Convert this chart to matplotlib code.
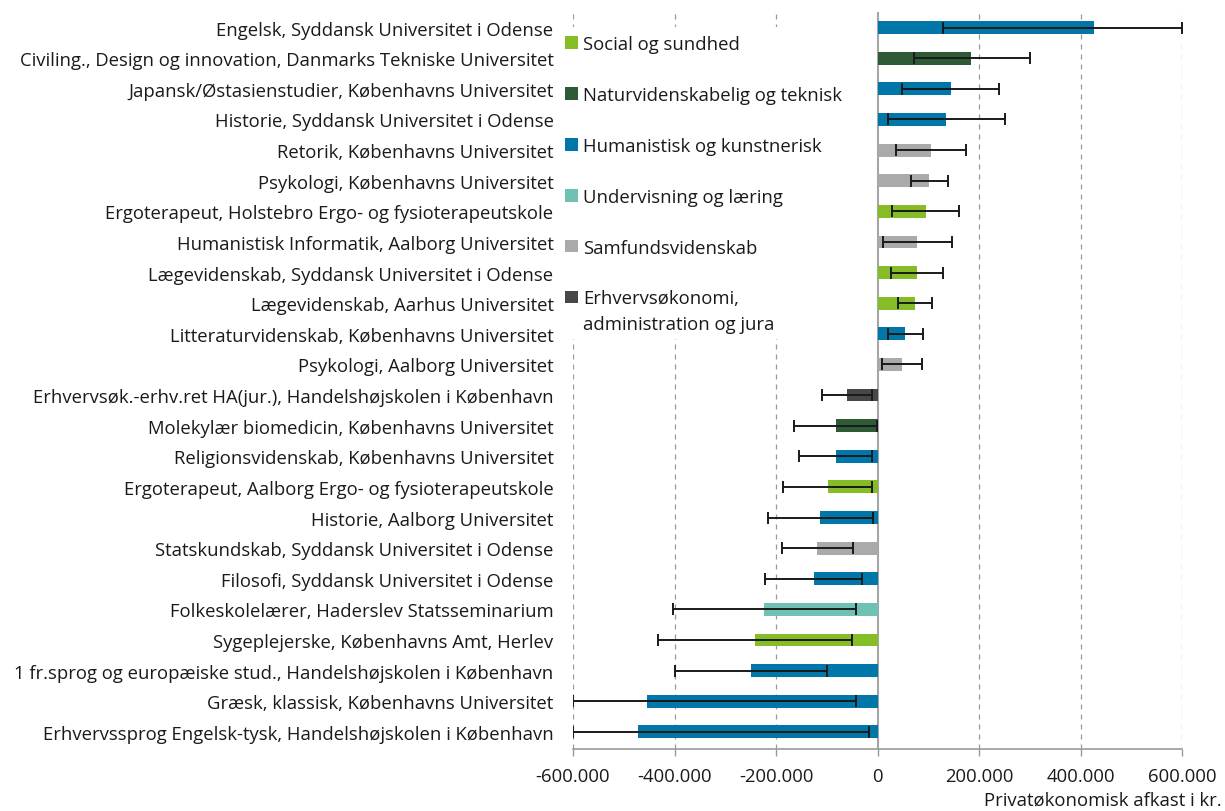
import matplotlib
matplotlib.use("Agg")
import matplotlib.pyplot as plt
from matplotlib.patches import Patch, Rectangle
from matplotlib.ticker import FuncFormatter
import numpy as np

plt.rcParams["font.family"] = ["Open Sans", "DejaVu Sans"]

# Educations, top to bottom
educations = [
    "Engelsk, Syddansk Universitet i Odense",
    "Civiling., Design og innovation, Danmarks Tekniske Universitet",
    "Japansk/Østasienstudier, Københavns Universitet",
    "Historie, Syddansk Universitet i Odense",
    "Retorik, Københavns Universitet",
    "Psykologi, Københavns Universitet",
    "Ergoterapeut, Holstebro Ergo- og fysioterapeutskole",
    "Humanistisk Informatik, Aalborg Universitet",
    "Lægevidenskab, Syddansk Universitet i Odense",
    "Lægevidenskab, Aarhus Universitet",
    "Litteraturvidenskab, Københavns Universitet",
    "Psykologi, Aalborg Universitet",
    "Erhvervsøk.-erhv.ret HA(jur.), Handelshøjskolen i København",
    "Molekylær biomedicin, Københavns Universitet",
    "Religionsvidenskab, Københavns Universitet",
    "Ergoterapeut, Aalborg Ergo- og fysioterapeutskole",
    "Historie, Aalborg Universitet",
    "Statskundskab, Syddansk Universitet i Odense",
    "Filosofi, Syddansk Universitet i Odense",
    "Folkeskolelærer, Haderslev Statsseminarium",
    "Sygeplejerske, Københavns Amt, Herlev",
    "1 fr.sprog og europæiske stud., Handelshøjskolen i København",
    "Græsk, klassisk, Københavns Universitet",
    "Erhvervssprog Engelsk-tysk, Handelshøjskolen i København",
]

# Field of each education
fields = [
    "hum", "nat", "hum", "hum", "sam", "sam", "soc", "sam", "soc", "soc",
    "hum", "sam", "erh", "nat", "hum", "soc", "hum", "sam", "hum", "und",
    "soc", "hum", "hum", "hum",
]

# Private return (kr.) and interval bounds
afkast = [
    426000, 185000, 144000, 135500, 105000, 102000, 95000, 77600, 78600, 73500,
    54200, 47500, -60700, -80800, -82400, -97500, -112500, -118400, -125000, -223000,
    -241000, -249300, -453800, -472300,
]
ci_low = [
    130000, 72000, 49000, 20000, 37400, 66800, 28000, 10600, 26600, 40800,
    21500, 8100, -109000, -164500, -154500, -186400, -215700, -188000, -220700, -402700,
    -432000, -399400, -600000, -600000,
]
ci_high = [
    600000, 300000, 238600, 252000, 174000, 138000, 160000, 146000, 129700, 107000,
    89500, 87000, -11200, -1000, -10200, -10200, -7900, -48900, -30300, -42200,
    -50600, -99100, -41400, -17000,
]

field_keys = ["soc", "nat", "hum", "und", "sam", "erh"]
field_labels = [
    "Social og sundhed",
    "Naturvidenskabelig og teknisk",
    "Humanistisk og kunstnerisk",
    "Undervisning og læring",
    "Samfundsvidenskab",
    "Erhvervsøkonomi,",
]
field_label_extra = "administration og jura"
field_colors = {
    "soc": "#86BC25",
    "nat": "#2E5A36",
    "hum": "#0077A8",
    "und": "#6FC2B3",
    "sam": "#AAAAAA",
    "erh": "#474747",
}

xticks = [-600000, -400000, -200000, 0, 200000, 400000, 600000]

FS = 13.3
TXT = "#1a1a1a"
W, H = 1225, 812
fig = plt.figure(figsize=(W / 100, H / 100), dpi=100)
ax = fig.add_axes([573 / W, 1 - 750 / H, (1182 - 573) / W, (750 - 13) / H])

n = len(educations)
y = np.arange(n)
vals = np.array(afkast, dtype=float)
lo = np.array(ci_low, dtype=float)
hi = np.array(ci_high, dtype=float)
colors = [field_colors[f] for f in fields]

ax.barh(y, vals, height=0.42, color=colors, zorder=2)
ax.errorbar(vals, y, xerr=[vals - lo, hi - vals], fmt="none", ecolor=TXT,
            elinewidth=1.4, capsize=4.5, capthick=1.4, zorder=3)

ax.set_xlim(-600000, 600000)
ax.set_ylim(n - 1 + 0.56, -0.51)
ax.set_yticks(y)
ax.set_yticklabels(educations, fontsize=FS, color=TXT)
ax.tick_params(axis="y", length=0, pad=14)

ax.set_xticks(xticks)
ax.xaxis.set_major_formatter(FuncFormatter(lambda v, p: f"{v:,.0f}".replace(",", ".")))
ax.tick_params(axis="x", labelsize=FS, labelcolor=TXT, color="#999999",
               length=5, width=1, pad=8)

for v in xticks:
    if v != 0:
        ax.axvline(v, color="#999999", lw=0.9, ls=(0, (4, 4)), zorder=0)
ax.axvline(0, color="#A6A6A6", lw=1.5, zorder=1)

for s in ["top", "right", "left"]:
    ax.spines[s].set_visible(False)
ax.spines["bottom"].set_color("#999999")
ax.spines["bottom"].set_linewidth(1.2)

# white block behind the legend hides the gridlines there
ax.add_patch(Rectangle((556 / W, 1 - 340 / H), (865 - 556) / W, (340 - 28) / H,
                       transform=fig.transFigure, facecolor="white",
                       edgecolor="none", zorder=1.5, clip_on=False))

handles = [Patch(facecolor=field_colors[k], edgecolor="none") for k in field_keys]
leg = ax.legend(handles, field_labels, loc="upper left",
                bbox_to_anchor=(565 / W, 1 - 36 / H), bbox_transform=fig.transFigure,
                fontsize=FS, frameon=False, handlelength=0.68, handleheight=0.68,
                handletextpad=0.3, labelspacing=1.78, borderpad=0, borderaxespad=0)
leg.set_zorder(5)
for t in leg.get_texts():
    t.set_color(TXT)

fig.text(583 / W, 1 - 325 / H, field_label_extra, ha="left", va="center",
         fontsize=FS, color=TXT, zorder=6)

fig.text(1222 / W, 1 - 801 / H, "Privatøkonomisk afkast i kr.", ha="right", va="center",
         fontsize=FS, color=TXT)

fig.savefig("out.png", dpi=100)
